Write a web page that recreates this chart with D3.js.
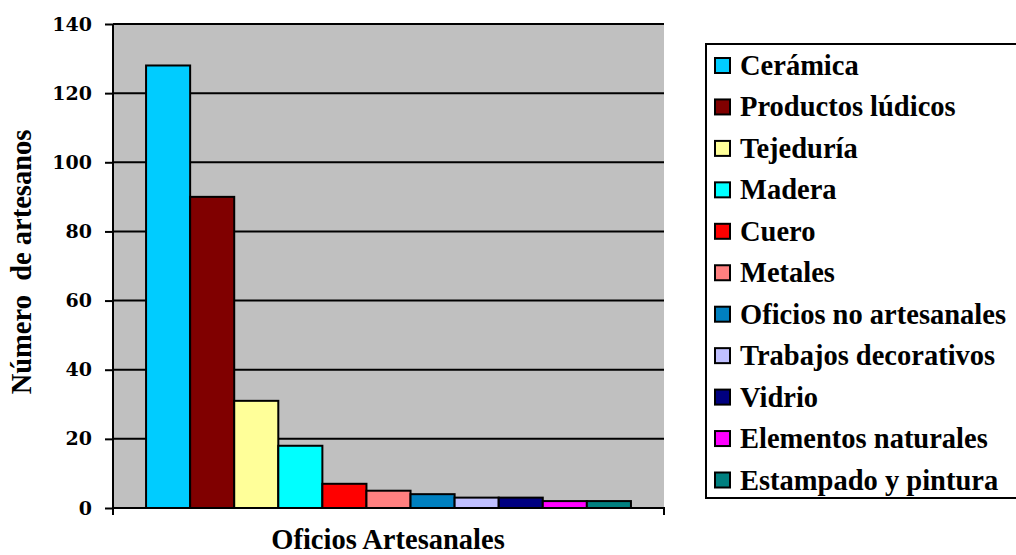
<!DOCTYPE html>
<html>
<head>
<meta charset="utf-8">
<script src="https://cdn.jsdelivr.net/npm/d3@7"></script>
<style>
  html, body { margin: 0; padding: 0; background: #fff; }
  svg { display: block; }
  text { font-family: "Liberation Serif", "Times New Roman", serif; font-weight: bold; fill: #000; }
</style>
</head>
<body>
<svg id="chart" width="1016" height="555"></svg>
<script>
const categories = ["Cerámica", "Productos lúdicos", "Tejeduría", "Madera", "Cuero", "Metales",
  "Oficios no artesanales", "Trabajos decorativos", "Vidrio", "Elementos naturales", "Estampado y pintura"];
const values = [128, 90, 31, 18, 7, 5, 4, 3, 3, 2, 2];
const colors = ["#00CCFF", "#800000", "#FFFF99", "#00FFFF", "#FF0000", "#FF8080",
  "#0080C0", "#C0C0FF", "#000080", "#FF00FF", "#008080"];
const yTicks = [0, 20, 40, 60, 80, 100, 120, 140];
const yTitle = "Número  de artesanos";
const xTitle = "Oficios Artesanales";

const svg = d3.select("#chart");
const L = 113, R = 664, T = 24, B = 508;

const y = d3.scaleLinear().domain([0, 140]).range([B, T]);
const x = d3.scaleBand().domain(categories).range([L, R]).paddingInner(0).paddingOuter(0.75);

svg.append("rect").attr("x", L).attr("y", T).attr("width", R - L).attr("height", B - T).attr("fill", "#C0C0C0");

svg.append("g").selectAll("line").data(yTicks.filter(d => d > 0)).join("line")
  .attr("x1", L).attr("x2", R).attr("y1", d => y(d)).attr("y2", d => y(d))
  .attr("stroke", "#000").attr("stroke-width", 2);

svg.append("g").selectAll("rect").data(values).join("rect")
  .attr("x", (d, i) => x(categories[i]))
  .attr("y", d => y(d))
  .attr("width", x.bandwidth())
  .attr("height", d => B - y(d))
  .attr("fill", (d, i) => colors[i])
  .attr("stroke", "#000").attr("stroke-width", 2);

const yAxis = d3.axisLeft(y).tickValues(yTicks).tickSize(8).tickPadding(13);
const gy = svg.append("g").attr("transform", `translate(${L},0)`).call(yAxis);
gy.select(".domain").attr("d", `M0,${T}V${B + 7}`).attr("stroke", "#000").attr("stroke-width", 2);
gy.selectAll(".tick line").attr("stroke", "#000").attr("stroke-width", 2);
gy.selectAll(".tick text").style("font-size", "19px").attr("fill", "#000")
  .style("font-family", "\"DejaVu Serif\", serif").style("font-weight", "bold");

const gx = svg.append("g").attr("transform", `translate(0,${B})`);
gx.append("path").attr("d", `M${L},0H${R}V7`).attr("fill", "none").attr("stroke", "#000").attr("stroke-width", 2);

svg.append("text").attr("transform", `translate(31,262) rotate(-90)`)
  .attr("text-anchor", "middle").style("font-size", "28.5px")
  .attr("xml:space", "preserve").text(yTitle);
svg.append("text").attr("x", 388).attr("y", 549).attr("text-anchor", "middle")
  .style("font-size", "28.5px").text(xTitle);

const lg = svg.append("g");
lg.append("rect").attr("x", 706).attr("y", 44).attr("width", 320).attr("height", 454)
  .attr("fill", "#fff").attr("stroke", "#000").attr("stroke-width", 2);
const rowY = d3.scalePoint().domain(categories).range([65.5, 480]);
const items = lg.selectAll("g.item").data(categories).join("g").attr("class", "item")
  .attr("transform", d => `translate(0,${rowY(d)})`);
items.append("rect").attr("x", 715).attr("y", -7.5).attr("width", 15).attr("height", 15)
  .attr("fill", (d, i) => colors[i]).attr("stroke", "#000").attr("stroke-width", 2);
items.append("text").attr("x", 740).attr("y", 9.5).style("font-size", "28.5px").text(d => d);
</script>
</body>
</html>
